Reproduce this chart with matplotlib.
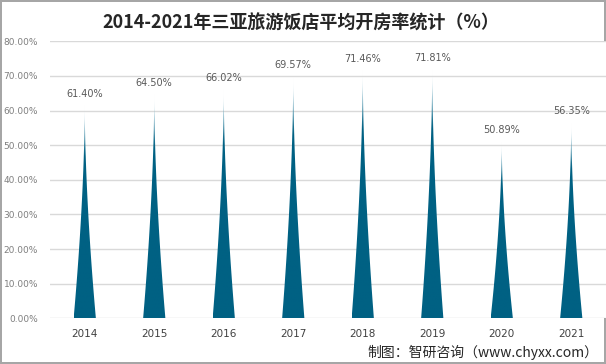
import numpy as np
import matplotlib
matplotlib.use("Agg")
import matplotlib.pyplot as plt
from matplotlib.colors import LinearSegmentedColormap
from matplotlib.patches import Polygon
from matplotlib.ticker import FuncFormatter

plt.rcParams['font.family'] = ['Noto Sans CJK SC', 'DejaVu Sans']

years = ["2014", "2015", "2016", "2017", "2018", "2019", "2020", "2021"]
rates = [61.40, 64.50, 66.02, 69.57, 71.46, 71.81, 50.89, 56.35]

title = "2014-2021年三亚旅游饭店平均开房率统计（%）"
source = "制图：智研咨询（www.chyxx.com）"

fig = plt.figure(figsize=(6.06, 3.64), dpi=100)
fig.patch.set_edgecolor("#a6a6a6")
fig.patch.set_linewidth(1.5)
ax = fig.add_axes([50 / 606, 1 - 318.3 / 364, 556 / 606, 277 / 364])

# spike shape: dark teal, fading to white at the tip
cmap = LinearSegmentedColormap.from_list(
    "spike", [(0, "#006183"), (0.76, "#006183"), (0.9, "#6aa7bd"), (1, "#ffffff")])
grad = np.linspace(0, 1, 256).reshape(-1, 1)
hw = 0.16

for i, r in enumerate(rates):
    v = r / 100
    t = np.linspace(0, 1, 60)
    w = hw * (1 - t) ** 1.7
    xs = np.concatenate([i - w, (i + w)[::-1]])
    ys = np.concatenate([t * v, (t * v)[::-1]])
    poly = Polygon(np.column_stack([xs, ys]), closed=True, facecolor="none",
                   edgecolor="none", zorder=3)
    ax.add_patch(poly)
    im = ax.imshow(grad, cmap=cmap, origin="lower", aspect="auto",
                   extent=[i - hw, i + hw, 0, v], zorder=3)
    im.set_clip_path(poly)
    ax.annotate("{:.2f}%".format(r), xy=(i, v), xytext=(0, 5),
                textcoords="offset points", ha="center", va="bottom",
                fontsize=7, color="#595959", family="DejaVu Sans")

ax.set_xlim(-0.5, len(years) - 0.5)
ax.set_ylim(0, 0.8)
ax.set_yticks(np.arange(0, 0.81, 0.1))
ax.yaxis.set_major_formatter(FuncFormatter(lambda y, p: "{:.2f}%".format(y * 100)))
ax.set_xticks(range(len(years)))
ax.set_xticklabels(years)
ax.tick_params(axis="y", length=0, pad=8.5, labelsize=6.5, labelcolor="#7f7f7f")
ax.tick_params(axis="x", length=0, pad=8, labelsize=7.5, labelcolor="#404040")
for lab in ax.get_yticklabels() + ax.get_xticklabels():
    lab.set_family("DejaVu Sans")
ax.grid(axis="y", color="#d9d9d9", linewidth=1)
ax.set_axisbelow(True)
for s in ax.spines.values():
    s.set_visible(False)

fig.text(0.497, 1 - 23 / 364, title, ha="center", va="center",
         fontsize=13, fontweight="bold", color="#262626")
fig.text(598 / 606, 1 - 352 / 364, source, ha="right", va="center",
         fontsize=10, color="#262626")

fig.savefig("out.png", dpi=100)
